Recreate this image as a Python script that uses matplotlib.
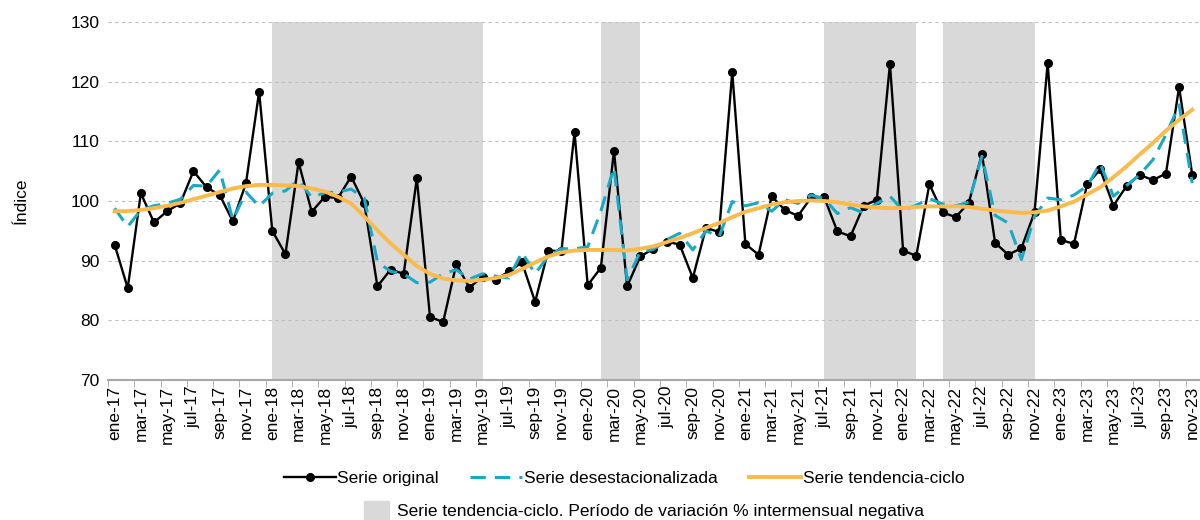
import numpy as np
import matplotlib
matplotlib.use("Agg")
import matplotlib.pyplot as plt
from matplotlib.lines import Line2D
from matplotlib.patches import Patch

plt.rcParams['font.family'] = ['Liberation Sans', 'DejaVu Sans']

# monthly labels ene-17 .. nov-23
meses = ["ene", "feb", "mar", "abr", "may", "jun", "jul", "ago", "sep", "oct", "nov", "dic"]
fechas = [f"{m}-{y}" for y in range(17, 24) for m in meses][:83]

original = [92.7, 85.4, 101.3, 96.4, 98.3, 99.6, 105.0, 102.3, 101.0, 96.6, 103.0, 118.3,
            95.0, 91.1, 106.5, 98.2, 100.7, 100.5, 104.1, 99.6, 85.7, 88.5, 87.8, 103.8,
            80.6, 79.7, 89.4, 85.5, 87.3, 86.8, 88.2, 89.7, 83.1, 91.7, 91.6, 111.5,
            85.9, 88.8, 108.4, 85.7, 90.7, 92.0, 93.2, 92.7, 87.1, 95.5, 94.8, 121.6,
            92.8, 91.0, 100.8, 98.5, 97.5, 100.6, 100.6, 94.9, 94.1, 99.2, 100.2, 123.0,
            91.7, 90.8, 102.8, 98.1, 97.3, 99.7, 107.9, 93.0, 91.0, 92.1, 98.1, 123.1,
            93.5, 92.8, 102.8, 105.3, 99.2, 102.5, 104.4, 103.5, 104.6, 119.1, 104.4]

desest = [98.8, 95.7, 98.5, 99.2, 99.6, 100.3, 102.6, 102.5, 105.2, 96.8, 101.5, 99.1,
          101.3, 101.7, 103.5, 100.6, 101.4, 101.5, 102.0, 100.5, 89.8, 88.2, 87.8, 86.3,
          86.4, 87.8, 88.5, 86.9, 87.8, 87.4, 87.1, 91.4, 87.8, 90.8, 92.0, 92.0,
          92.3, 98.3, 105.6, 86.8, 91.5, 91.9, 93.5, 94.6, 91.8, 95.0, 94.0, 99.9,
          99.2, 99.7, 98.3, 100.2, 99.6, 101.0, 100.4, 97.9, 98.9, 98.0, 99.6, 100.8,
          98.4, 99.3, 100.4, 99.5, 99.2, 99.8, 107.5, 97.6, 96.3, 90.2, 97.4, 100.5,
          100.2, 101.0, 102.5, 106.3, 100.8, 102.6, 104.4, 106.9, 111.1, 116.1, 103.0]

tendencia = [98.3, 98.3, 98.5, 98.8, 99.2, 99.7, 100.3, 100.9, 101.5, 102.1, 102.5, 102.7,
             102.7, 102.6, 102.5, 102.1, 101.6, 100.7, 99.6, 97.4, 95.1, 92.9, 91.0, 89.1,
             87.8, 87.0, 86.7, 86.6, 86.8, 87.1, 87.6, 88.6, 89.7, 90.7, 91.4, 91.7,
             91.8, 91.8, 91.8, 91.7, 92.0, 92.4, 93.1, 93.8, 94.6, 95.5, 96.3, 97.3,
             98.2, 98.8, 99.4, 99.8, 100.0, 100.1, 100.0, 99.8, 99.4, 99.1, 98.9, 98.8,
             98.8, 99.0, 99.1, 99.1, 99.1, 99.0, 98.7, 98.4, 98.2, 98.0, 98.1, 98.4,
             99.1, 99.9, 101.1, 102.3, 104.0, 105.8, 107.8, 109.7, 111.8, 113.6, 115.3]

# periods of negative month-on-month change in the trend (index start, end)
periodos_neg = [(12, 28), (37, 40), (54, 61), (63, 70)]

x = np.arange(len(fechas))
fs = 12.5

fig = plt.figure(figsize=(12, 5.2), dpi=100)
ax = fig.add_axes([0.09, 0.2692, 0.909, 0.6885])

for a, b in periodos_neg:
    ax.axvspan(a, b, color="#D9D9D9", lw=0, zorder=0)

ax.plot(x, original, color="black", lw=1.7, marker="o", ms=5.5, zorder=3)
ax.plot(x, desest, color="#17A9C6", lw=2.2, dashes=(5, 3), zorder=4)
ax.plot(x, tendencia, color="#FBBA4C", lw=2.8, zorder=5)

ax.set_xlim(-0.5, 82.5)
ax.set_ylim(70, 130)
ax.set_yticks(range(70, 131, 10))
for v in range(80, 131, 10):
    ax.axhline(v, color="#BFBFBF", lw=0.8, ls=(0, (3, 3)), zorder=1)

ax.set_xticks(x[::2])
ax.set_xticklabels(fechas[::2], rotation=90, fontsize=fs)
ax.set_xticks(x[::2] - 0.5, minor=True)
ax.tick_params(axis="x", which="major", length=0, pad=4)
ax.tick_params(axis="x", which="minor", length=5, color="#A6A6A6")
ax.tick_params(axis="y", length=0, labelsize=fs, pad=6)

for s in ["top", "right", "left"]:
    ax.spines[s].set_visible(False)
ax.spines["bottom"].set_color("#A6A6A6")
ax.spines["bottom"].set_linewidth(1.5)

ax.set_ylabel("Índice", fontsize=fs, labelpad=30)

handles = [
    Line2D([0, 1, 2], [0, 0, 0], color="black", lw=1.7, marker="o", ms=5.5, markevery=[1],
           label="Serie original"),
    Line2D([], [], color="#17A9C6", lw=2.2, dashes=(5, 3), label="Serie desestacionalizada"),
    Line2D([], [], color="#FBBA4C", lw=2.8, label="Serie tendencia-ciclo"),
]
fig.legend(handles=handles, loc="center", bbox_to_anchor=(0.52, 0.08), ncol=3,
           frameon=False, fontsize=fs, handlelength=3.0, columnspacing=1.8,
           handletextpad=0.1)
fig.legend(handles=[Patch(color="#D9D9D9",
           label="Serie tendencia-ciclo. Período de variación % intermensual negativa")],
           loc="center", bbox_to_anchor=(0.537, 0.018), frameon=False, fontsize=fs,
           handlelength=1.4, handleheight=1.4, handletextpad=0.5)

fig.savefig("out.png", dpi=100)
